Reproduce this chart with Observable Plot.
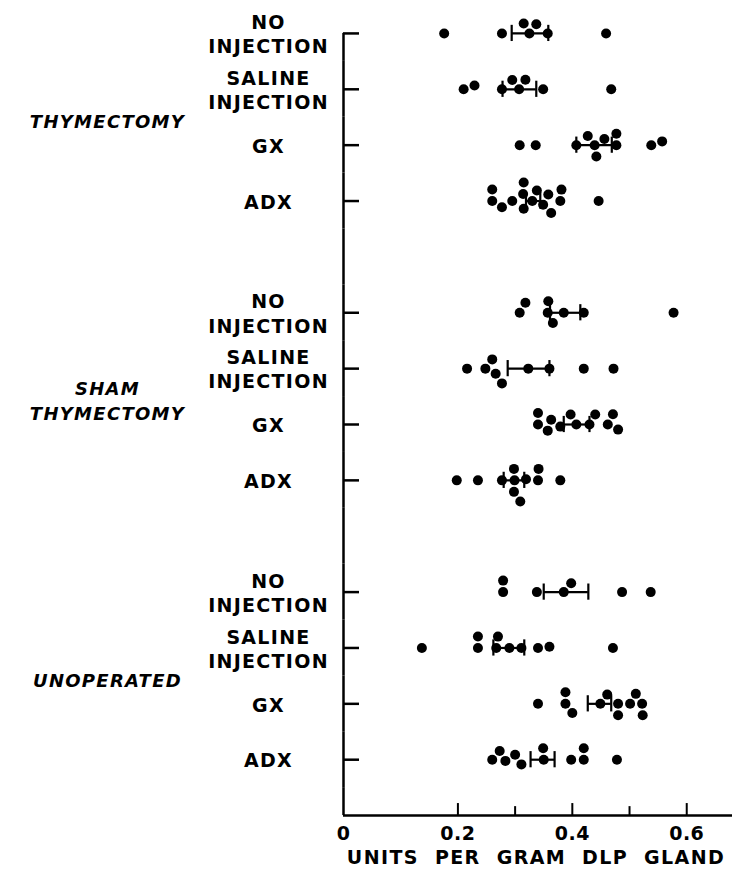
<!DOCTYPE html>
<html>
<head>
<meta charset="utf-8">
<script src="https://cdn.jsdelivr.net/npm/d3@7"></script>
<script src="https://cdn.jsdelivr.net/npm/@observablehq/plot@0.6"></script>
<style>
  body { margin: 0; background: #fff; }
</style>
</head>
<body>
<div id="chart"></div>
<script>
// ---- Data ----
const groups = ["THYMECTOMY", "SHAM\nTHYMECTOMY", "UNOPERATED"];
const treatments = ["NO\nINJECTION", "SALINE\nINJECTION", "GX", "ADX"];

// individual values (units per gram DLP gland)
const thymNoInj   = [0.176, 0.277, 0.315, 0.337, 0.357, 0.459];
const thymSaline  = [0.210, 0.229, 0.277, 0.295, 0.318, 0.349, 0.468];
const thymGX      = [0.308, 0.336, 0.407, 0.427, 0.442, 0.456, 0.477, 0.477, 0.538, 0.557];
const thymADX     = [0.260, 0.260, 0.277, 0.295, 0.314, 0.315, 0.315, 0.338, 0.349, 0.358, 0.363, 0.379, 0.381, 0.446];
const shamNoInj   = [0.308, 0.318, 0.357, 0.358, 0.366, 0.420, 0.577];
const shamSaline  = [0.216, 0.248, 0.260, 0.266, 0.277, 0.360, 0.420, 0.472];
const shamGX      = [0.340, 0.340, 0.357, 0.363, 0.379, 0.397, 0.430, 0.440, 0.462, 0.471, 0.480];
const shamADX     = [0.198, 0.235, 0.277, 0.298, 0.298, 0.309, 0.319, 0.340, 0.341, 0.379];
const unopNoInj   = [0.279, 0.279, 0.338, 0.398, 0.487, 0.537];
const unopSaline  = [0.137, 0.235, 0.235, 0.267, 0.270, 0.311, 0.340, 0.360, 0.471];
const unopGX      = [0.340, 0.388, 0.388, 0.400, 0.461, 0.480, 0.480, 0.501, 0.511, 0.522, 0.523];
const unopADX     = [0.260, 0.273, 0.283, 0.300, 0.311, 0.349, 0.398, 0.420, 0.420, 0.478];

const rowValues = [thymNoInj, thymSaline, thymGX, thymADX,
                   shamNoInj, shamSaline, shamGX, shamADX,
                   unopNoInj, unopSaline, unopGX, unopADX];

// mean and standard-error bounds per row
const means  = [0.325, 0.307, 0.439, 0.330, 0.385, 0.323, 0.407, 0.299, 0.385, 0.290, 0.449, 0.350];
const seLow  = [0.294, 0.278, 0.407, 0.319, 0.361, 0.287, 0.385, 0.280, 0.350, 0.262, 0.427, 0.327];
const seHigh = [0.358, 0.337, 0.469, 0.344, 0.414, 0.360, 0.430, 0.316, 0.428, 0.316, 0.468, 0.369];

const xTicksMajor = [0.2, 0.4, 0.6];
const xTicksMinor = [0.3, 0.5];
const xTickLabels = [0, 0.2, 0.4, 0.6];
const axisTitle = "UNITS PER GRAM DLP GLAND";

// ---- Layout tables (slots: 4 rows per group + 1 blank gap; last slot holds the x axis) ----
const perGroup = treatments.length + 1;
const axisSlot = groups.length * perGroup - 1;
const slots = d3.range(axisSlot + 1);

const rows = rowValues.map((vals, i) => {
  const g = Math.floor(i / treatments.length), t = i % treatments.length;
  return {slot: g * perGroup + t, label: treatments[t], mean: means[i], lo: seLow[i], hi: seHigh[i]};
});
const points = [
  ...rows.map(r => ({slot: r.slot, v: r.mean, kind: "mean"})),
  ...rows.flatMap((r, i) => rowValues[i].map(v => ({slot: r.slot, v, kind: "obs"})))
];
const groupRows = groups.map((name, g) => ({name, slot: g * perGroup + 1}));

const font = "DejaVu Sans";

const chart = Plot.plot({
  width: 732,
  height: 870,
  marginLeft: 343,
  marginRight: 0,
  marginTop: 5,
  marginBottom: 27,
  style: {fontFamily: font, color: "black", background: "white", overflow: "visible"},
  x: {domain: [0, 0.68], axis: null},
  y: {domain: [-1, 1], axis: null},
  fy: {domain: slots, padding: 0, round: false, axis: null},
  marks: [
    // vertical axis line
    Plot.ruleX(slots, {x: 0, fy: d => d, y1: d => d === 0 ? 0 : 1, y2: d => d === axisSlot ? 0 : -1, strokeWidth: 2.5}),
    // row ticks
    Plot.ruleY(rows, {fy: "slot", y: 0, x1: 0, x2: 0.028, strokeWidth: 2.5}),
    // horizontal x-axis line
    Plot.ruleY([axisSlot], {fy: d => d, y: 0, strokeWidth: 2.5}),
    Plot.ruleX(xTicksMajor, {x: d => d, fy: () => axisSlot, y1: 0, y2: 0.43, strokeWidth: 2}),
    Plot.ruleX(xTicksMinor, {x: d => d, fy: () => axisSlot, y1: 0, y2: 0.32, strokeWidth: 2}),
    Plot.text(xTickLabels, {
      x: d => d, fy: () => axisSlot, y: 0, dy: 18,
      text: d => d === 0 ? "0" : d.toFixed(1),
      fontSize: 19, fontWeight: "bold", fontFamily: font
    }),
    Plot.text([axisTitle], {
      fy: () => axisSlot, frameAnchor: "bottom", lineAnchor: "middle", dy: 14, dx: -2,
      fontSize: 19, fontWeight: "bold", fontFamily: font
    }),
    // SE bars
    Plot.ruleY(rows, {fy: "slot", y: 0, x1: "lo", x2: "hi", strokeWidth: 2.2}),
    Plot.ruleX(rows, {fy: "slot", x: "lo", y1: -0.29, y2: 0.29, strokeWidth: 2.2}),
    Plot.ruleX(rows, {fy: "slot", x: "hi", y1: -0.29, y2: 0.29, strokeWidth: 2.2}),
    // dots (mean first so it sits on the centre line)
    Plot.dot(points, Plot.dodgeY({x: "v", fy: "slot", r: 5, anchor: "middle", padding: 1.5, fill: "black", stroke: "none"})),
    // treatment labels
    Plot.text(rows, {
      fy: "slot", text: "label", frameAnchor: "left", dx: -75, textAnchor: "middle",
      lineAnchor: "middle", lineHeight: 1.27,
      fontSize: 19, fontWeight: "bold", fontFamily: font
    }),
    // group labels
    Plot.text(groupRows, {
      fy: "slot", text: "name", frameAnchor: "bottom-left", dx: -236, dy: 3,
      textAnchor: "middle", lineAnchor: "middle", lineHeight: 1.4,
      fontSize: 18, fontWeight: "bold", fontStyle: "italic", fontFamily: font
    })
  ]
});

// letter spacing to mimic the hand lettering
const flat = s => s.replace(/\n/g, "");
d3.select(chart).selectAll("text").each(function () {
  const t = this.textContent;
  const sel = d3.select(this);
  if (t === axisTitle) sel.style("letter-spacing", "1.4px").style("word-spacing", "8px");
  else if (groups.some(g => flat(g) === t)) sel.style("letter-spacing", "1.3px");
  else if (treatments.some(g => flat(g) === t)) sel.style("letter-spacing", "1.3px");
  else sel.style("letter-spacing", "0.5px");
});

document.getElementById("chart").appendChild(chart);
</script>
</body>
</html>
